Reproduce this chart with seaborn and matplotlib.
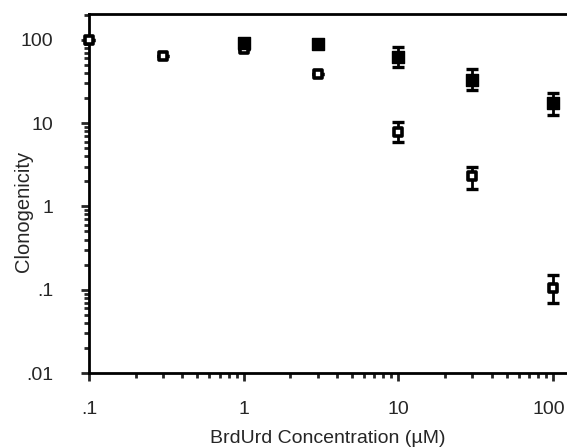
import numpy as np
import pandas as pd
import matplotlib
matplotlib.use("Agg")
import matplotlib.pyplot as plt
import matplotlib.transforms as mtransforms
import seaborn as sns
from matplotlib.ticker import FixedLocator, LogLocator, NullFormatter

# Data (BrdUrd concentration in uM, clonogenicity)
filled_x = [1, 3, 10, 30, 100]
filled_y = [92, 90, 62, 33, 17.5]
filled_lo = [84, 84, 47, 25, 12.6]
filled_hi = [100, 96, 82, 44, 23]

open_x = [0.1, 0.3, 1, 3, 10, 30, 100]
open_y = [100, 64, 78, 39, 7.9, 2.3, 0.105]
open_lo = [100, 64, 78, 39, 6.0, 1.6, 0.07]
open_hi = [100, 64, 78, 39, 10.4, 3.0, 0.15]

xticks = [0.1, 1, 10, 100]
xtick_labels = [".1", "1", "10", "100"]
yticks = [0.01, 0.1, 1, 10, 100]
ytick_labels = [".01", ".1", "1", "10", "100"]

sns.set_style("ticks")
plt.rcParams['font.family'] = ['Liberation Sans', 'DejaVu Sans']

fig = plt.figure(figsize=(5.67, 4.48), dpi=100)
ax = fig.add_axes([89/567, 1-373/448, 1-89/567, (373-14)/448])

df_f = pd.DataFrame({"x": filled_x, "y": filled_y})
df_o = pd.DataFrame({"x": open_x, "y": open_y})

# error bars
ax.errorbar(open_x, open_y,
            yerr=[np.array(open_y) - np.array(open_lo), np.array(open_hi) - np.array(open_y)],
            fmt='none', ecolor='black', elinewidth=2, capsize=4, capthick=2.4, zorder=2)
ax.errorbar(filled_x, filled_y,
            yerr=[np.array(filled_y) - np.array(filled_lo), np.array(filled_hi) - np.array(filled_y)],
            fmt='none', ecolor='black', elinewidth=2, capsize=4, capthick=2.4, zorder=4)

sns.scatterplot(data=df_o, x="x", y="y", ax=ax, marker='s', s=40,
                facecolor='white', edgecolor='black', linewidth=2.6, zorder=3, clip_on=False)
sns.scatterplot(data=df_f, x="x", y="y", ax=ax, marker='s', s=70,
                color='black', edgecolor='black', linewidth=1, zorder=5, clip_on=False)

ax.set_xscale('log')
ax.set_yscale('log')
ax.set_xlim(0.1, 123)
ax.set_ylim(0.01, 204)

ax.xaxis.set_major_locator(FixedLocator(xticks))
ax.set_xticklabels(xtick_labels)
ax.yaxis.set_major_locator(FixedLocator(yticks))
ax.set_yticklabels(ytick_labels)
ax.xaxis.set_minor_locator(LogLocator(base=10, subs=np.arange(2, 10)))
ax.yaxis.set_minor_locator(LogLocator(base=10, subs=np.arange(2, 10)))
ax.xaxis.set_minor_formatter(NullFormatter())
ax.yaxis.set_minor_formatter(NullFormatter())

ax.tick_params(which='major', direction='out', length=6, width=2, labelsize=14)
ax.tick_params(axis='y', which='major', pad=19.5)
ax.tick_params(axis='x', which='major', pad=14)
ax.tick_params(which='minor', direction='out', length=3.5, width=2)
ax.tick_params(top=False, right=False, which='both')

for s in ['left', 'bottom', 'top']:
    ax.spines[s].set_linewidth(2)
    ax.spines[s].set_color('black')
ax.spines['right'].set_visible(False)

ax.set_xlabel("BrdUrd Concentration (µM)", fontsize=14, labelpad=9)
ax.set_ylabel("Clonogenicity", fontsize=14.5)
ax.yaxis.set_label_coords(-0.117, 0.45)

# keep the last x tick label inside the figure (as in the reference)
last = ax.get_xticklabels()[-1]
last.set_ha('right')
last.set_transform(last.get_transform() +
                   mtransforms.ScaledTranslation(12/100, 0, fig.dpi_scale_trans))

fig.savefig("out.png", dpi=100)
